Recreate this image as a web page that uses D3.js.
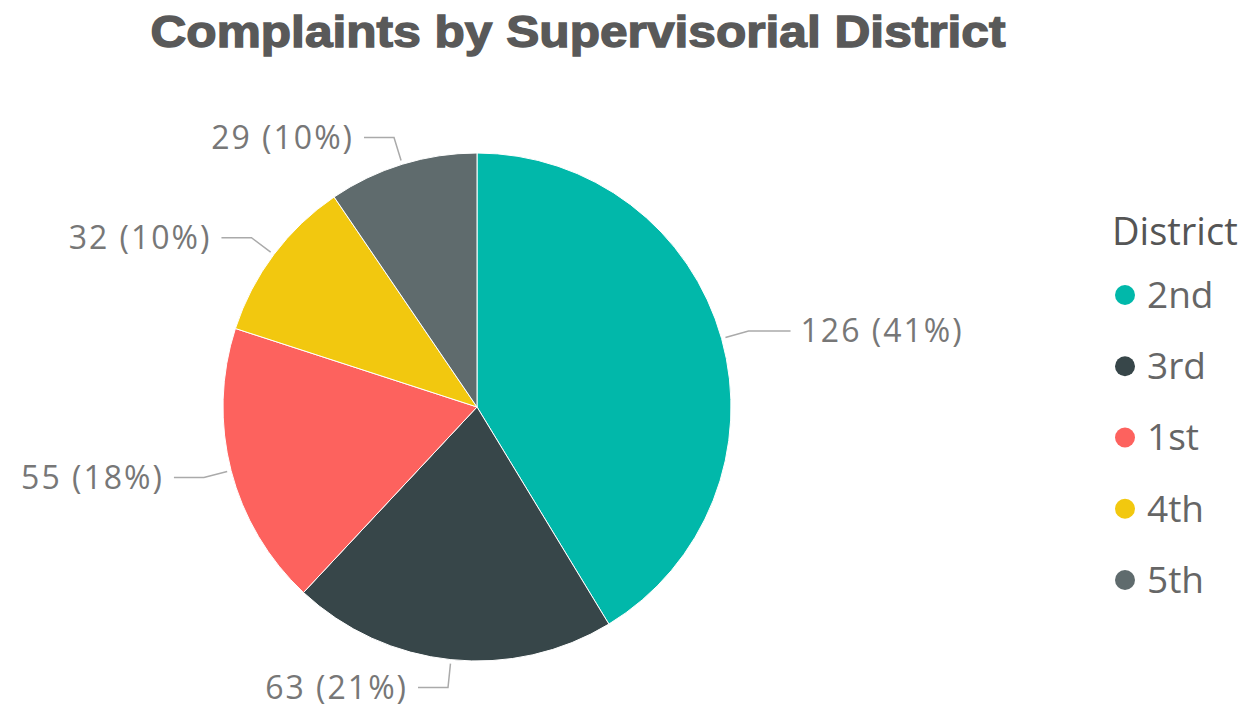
<!DOCTYPE html>
<html>
<head>
<meta charset="utf-8">
<script src="https://cdn.jsdelivr.net/npm/d3@7"></script>
<style>
  body { margin: 0; background: #fff; }
  svg { display: block; }
  .title { font-family: "Liberation Sans Narrow", "Liberation Sans", Arial, sans-serif; font-weight: bold; fill: #595959; stroke: #595959; stroke-width: 1.4px; }
  .lbl { font-family: "Open Sans", "Noto Sans", sans-serif; fill: #777; letter-spacing: 2px; }
  .leader { fill: none; stroke: #aaa; stroke-width: 1.5px; }
  .legend { font-family: "Open Sans", "Noto Sans", sans-serif; }
</style>
</head>
<body>
<div class="chart"></div>
<script>
let districts = ["2nd", "3rd", "1st", "4th", "5th"];
let complaints = [126, 63, 55, 32, 29];
let percents = ["41%", "21%", "18%", "10%", "10%"];
let colors = ["#01B8AA", "#374649", "#FD625E", "#F2C80F", "#5F6B6D"];

let width = 1257;
let height = 724;
let cx = 477, cy = 407, radius = 254;

let svg = d3.select(".chart")
  .append("svg")
  .attr("width", width)
  .attr("height", height);

svg.append("text")
  .attr("class", "title")
  .attr("x", 578)
  .attr("y", 47)
  .attr("text-anchor", "middle")
  .attr("font-size", 45)
  .attr("textLength", 855)
  .attr("lengthAdjust", "spacingAndGlyphs")
  .text("Complaints by Supervisorial District");

let data = districts.map(function(d, i) {
  return { name: d, value: complaints[i], pct: percents[i], color: colors[i] };
});

let pie = d3.pie()
  .sort(null)
  .value(function(d) { return d.value; });

let arc = d3.arc()
  .innerRadius(0)
  .outerRadius(radius);

let g = svg.append("g")
  .attr("transform", "translate(" + cx + "," + cy + ")");

let arcs = pie(data);

g.selectAll("path.slice")
  .data(arcs)
  .enter()
  .append("path")
  .attr("class", "slice")
  .attr("d", arc)
  .attr("fill", function(d) { return d.data.color; })
  .attr("stroke", "#fff")
  .attr("stroke-width", 1);

// leader lines: out from the edge, then sideways to the label
function pointAt(a, r) {
  return [r * Math.sin(a), -r * Math.cos(a)];
}

arcs.forEach(function(d) {
  let mid = (d.startAngle + d.endAngle) / 2;
  let p1 = pointAt(mid, radius + 4);
  let p2 = pointAt(mid, radius + 28);
  let right = Math.sin(mid) > 0;
  let p3 = [p2[0] + (right ? 42 : -30), p2[1]];
  g.append("polyline")
    .attr("class", "leader")
    .attr("points", [p1, p2, p3].map(function(p) { return p.join(","); }).join(" "));
  g.append("text")
    .attr("class", "lbl")
    .attr("x", p3[0] + (right ? 10 : -10))
    .attr("y", p3[1])
    .attr("dy", "0.35em")
    .attr("font-size", 32)
    .attr("text-anchor", right ? "start" : "end")
    .text(d.data.value + " (" + d.data.pct + ")");
});

let legend = svg.append("g")
  .attr("class", "legend")
  .attr("transform", "translate(1112,0)");

legend.append("text")
  .attr("x", 0)
  .attr("y", 245)
  .attr("font-size", 38)
  .attr("fill", "#555")
  .text("District");

let ly = d3.scalePoint()
  .domain(districts)
  .range([295, 580]);

let items = legend.selectAll("g.item")
  .data(data)
  .enter()
  .append("g")
  .attr("class", "item")
  .attr("transform", function(d) { return "translate(0," + ly(d.name) + ")"; });

items.append("circle")
  .attr("cx", 13)
  .attr("cy", 0)
  .attr("r", 10)
  .attr("fill", function(d) { return d.color; });

items.append("text")
  .attr("x", 35)
  .attr("y", 0)
  .attr("dy", "0.35em")
  .attr("font-size", 37)
  .attr("fill", "#666")
  .text(function(d) { return d.name; });
</script>
</body>
</html>
